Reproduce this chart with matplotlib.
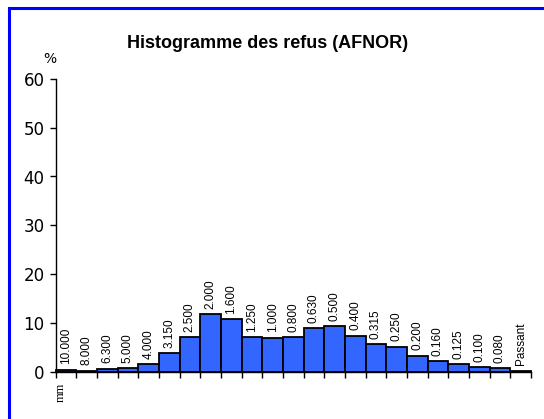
import matplotlib
matplotlib.use("Agg")
import matplotlib.pyplot as plt
from matplotlib.patches import Rectangle

# sieve openings (mm) and retained percentage
sieves = ["10.000", "8.000", "6.300", "5.000", "4.000", "3.150", "2.500", "2.000",
          "1.600", "1.250", "1.000", "0.800", "0.630", "0.500", "0.400", "0.315",
          "0.250", "0.200", "0.160", "0.125", "0.100", "0.080", "Passant"]
refus = [0.4, 0.15, 0.55, 0.7, 1.5, 3.7, 7.0, 11.7,
         10.7, 7.0, 6.9, 7.05, 8.9, 9.3, 7.3, 5.6,
         5.1, 3.2, 2.1, 1.5, 0.85, 0.65, 0.1]
yticks = [0, 10, 20, 30, 40, 50, 60]

W, H = 544, 419
fig = plt.figure(figsize=(W / 100, H / 100), dpi=100)
ax = fig.add_axes([55.5 / W, 1 - 371.5 / H, (531 - 55.5) / W, (371.5 - 79) / H])

n = len(sieves)
xs = [i + 0.5 for i in range(n)]
ax.bar(xs, refus, width=1.0, color="#3366ff", edgecolor="black", linewidth=1.3,
       clip_on=False, zorder=3)

for x, v, lab in zip(xs, refus, sieves):
    ax.annotate(lab, (x, v), xytext=(0, 4), textcoords="offset points",
                rotation=90, ha="center", va="bottom", fontsize=8.5,
                family="Liberation Sans")

ax.set_xlim(0, n)
ax.set_ylim(0, 60)
ax.set_xticks(range(n + 1))
ax.set_xticklabels([])
ax.set_yticks(yticks)
ax.set_yticklabels([str(t) for t in yticks], fontsize=12, family="DejaVu Sans")
ax.tick_params(axis="both", direction="out", length=4, width=1, color="black", pad=4)

for s in ["top", "right"]:
    ax.spines[s].set_visible(False)
for s in ["left", "bottom"]:
    ax.spines[s].set_linewidth(1)
    ax.spines[s].set_zorder(4)

fig.text(267.5 / W, 1 - 43 / H, "Histogramme des refus (AFNOR)", ha="center", va="center",
         fontsize=13, fontweight="bold", family="Liberation Sans")
fig.text(50 / W, 1 - 59 / H, "%", ha="center", va="center", fontsize=10,
         family="DejaVu Sans")
fig.text(61 / W, 1 - 392 / H, "mm", ha="center", va="center", rotation=90,
         fontsize=9, family="Liberation Serif")

# blue frame around the chart area
fig.patches.append(Rectangle((8.5 / W, -1), 2, 1 + (1 - 8.5 / H), transform=fig.transFigure,
                             fill=False, edgecolor="#0000ff", linewidth=2.2))

fig.savefig("out.png", dpi=100, facecolor="white")
